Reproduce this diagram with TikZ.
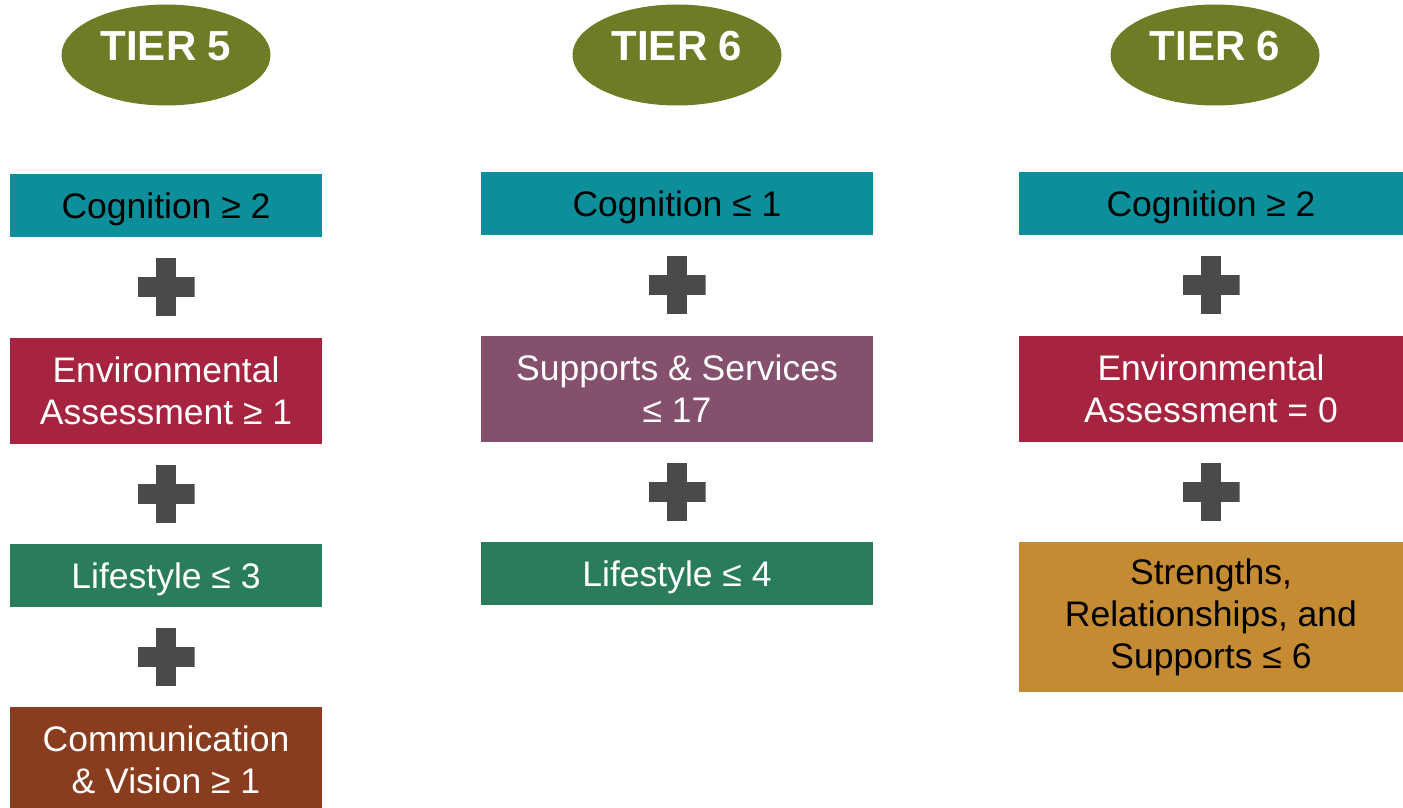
\documentclass[tikz,border=0pt]{standalone}
\usepackage{fontspec}
\setmainfont{Liberation Sans}
\usetikzlibrary{positioning,calc,shapes.geometric}
\definecolor{tierolive}{HTML}{6F7B25}
\definecolor{cogteal}{HTML}{0C8F9A}
\definecolor{envred}{HTML}{A6243F}
\definecolor{lifegreen}{HTML}{2A7D5C}
\definecolor{commbrown}{HTML}{8A3C1E}
\definecolor{suppurple}{HTML}{85506E}
\definecolor{strgold}{HTML}{C58B33}
\definecolor{plusgray}{HTML}{4A4A4C}

\begin{document}
\begin{tikzpicture}[
    node distance=49.75pt,
    tier/.style={ellipse,fill=tierolive,text=white,minimum width=104.5pt,minimum height=50.5pt,inner sep=0pt,text height=15pt,text depth=9pt,font=\fontsize{21}{25}\selectfont\bfseries},
    box/.style={rectangle,align=center,inner sep=0pt,minimum height=31.5pt,font=\fontsize{17.75}{21}\selectfont},
    oneline/.style={text height=13pt,text depth=0pt},
    plussign/.style={minimum width=28.5pt,minimum height=29pt,inner sep=0pt,
      path picture={
        \fill[plusgray] ($(path picture bounding box.west)+(0,-5pt)$) rectangle ($(path picture bounding box.east)+(0,5pt)$);
        \fill[plusgray] ($(path picture bounding box.south)+(-5pt,0)$) rectangle ($(path picture bounding box.north)+(5pt,0)$);}}]
    \useasboundingbox (0,0) rectangle (701.5pt,-404pt);
    % tier headers
    \node[tier] (t5) at (83pt,-27.5pt) {TIER 5};
    \node[tier] (t6a) at (338.5pt,-27.5pt) {TIER 6};
    \node[tier] (t6b) at (607.5pt,-27.5pt) {TIER 6};
    % column 1
    \node[box,oneline,fill=cogteal,minimum width=156pt,below=34pt of t5] (cog1) {Cognition ≥ 2};
    \node[box,fill=envred,text=white,minimum width=156pt,minimum height=53pt,below=of cog1] (env1) {Environmental\\Assessment ≥ 1};
    \node[box,oneline,fill=lifegreen,text=white,minimum width=156pt,below=of env1] (life1) {Lifestyle ≤ 3};
    \node[box,fill=commbrown,text=white,minimum width=156pt,minimum height=53pt,below=of life1] (comm1) {Communication\\\& Vision ≥ 1};
    \node[plussign] (p1a) at ($(cog1.south)!0.5!(env1.north)$) {};
    \node[plussign] (p1b) at ($(env1.south)!0.5!(life1.north)$) {};
    \node[plussign] (p1c) at ($(life1.south)!0.5!(comm1.north)$) {};
    % column 2
    \node[box,oneline,fill=cogteal,minimum width=196pt,below=33pt of t6a] (cog2) {Cognition ≤ 1};
    \node[box,fill=suppurple,text=white,minimum width=196pt,minimum height=53pt,below=of cog2] (sup2) {Supports \& Services\\≤ 17};
    \node[box,oneline,fill=lifegreen,text=white,minimum width=196pt,below=of sup2] (life2) {Lifestyle ≤ 4};
    \node[plussign] (p2a) at ($(cog2.south)!0.5!(sup2.north)$) {};
    \node[plussign] (p2b) at ($(sup2.south)!0.5!(life2.north)$) {};
    % column 3
    \node[box,oneline,fill=cogteal,minimum width=192pt,below=33pt of t6b,xshift=-2pt] (cog3) {Cognition ≥ 2};
    \node[box,fill=envred,text=white,minimum width=192pt,minimum height=53pt,below=of cog3] (env3) {Environmental\\Assessment = 0};
    \node[box,fill=strgold,minimum width=192pt,minimum height=75pt,below=of env3] (str3) {Strengths,\\Relationships, and\\Supports ≤ 6};
    \node[plussign] (p3a) at ($(cog3.south)!0.5!(env3.north)$) {};
    \node[plussign] (p3b) at ($(env3.south)!0.5!(str3.north)$) {};
\end{tikzpicture}
\end{document}
